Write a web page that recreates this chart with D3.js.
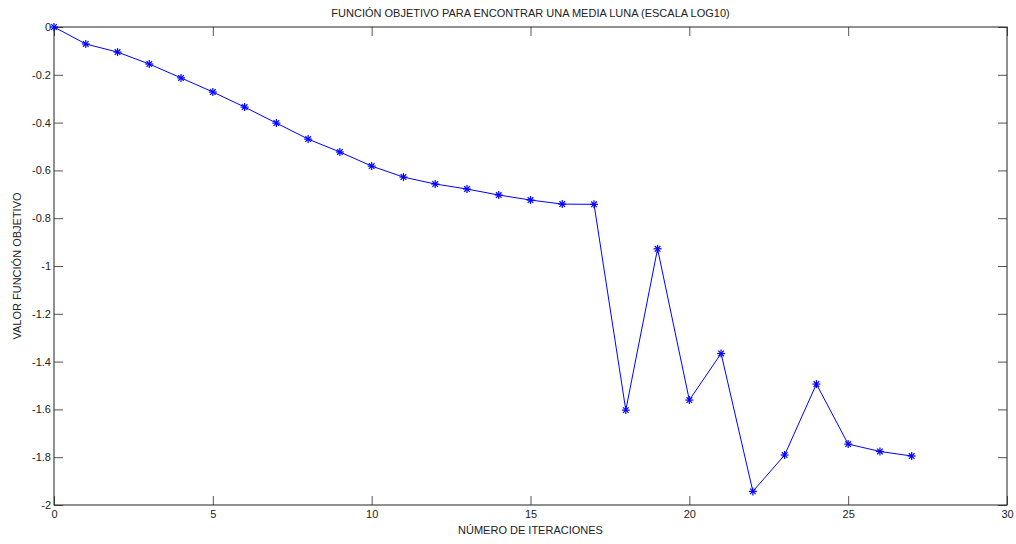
<!DOCTYPE html>
<html>
<head>
<meta charset="utf-8">
<script src="https://cdn.jsdelivr.net/npm/d3@7"></script>
<style>
  body { margin: 0; background: #fff; }
  svg text { font-family: "Liberation Sans", Arial, sans-serif; font-size: 11px; fill: #222; }
</style>
</head>
<body>
<div id="chart"></div>
<script>
// iteraciones y valor de la función objetivo (log10)
const iterations = d3.range(0, 28);
const objective = [0, -0.071, -0.105, -0.155, -0.213, -0.272, -0.335, -0.402, -0.469, -0.523,
  -0.582, -0.628, -0.657, -0.678, -0.703, -0.724, -0.741, -0.742, -1.603, -0.928,
  -1.561, -1.366, -1.943, -1.791, -1.494, -1.745, -1.776, -1.795];
const xTicks = [0, 5, 10, 15, 20, 25, 30];
const yTicks = [0, -0.2, -0.4, -0.6, -0.8, -1, -1.2, -1.4, -1.6, -1.8, -2];

const width = 1016, height = 544;
const margin = {top: 27, right: 9, bottom: 39, left: 54};
const innerW = width - margin.left - margin.right,
      innerH = height - margin.top - margin.bottom;

const svg = d3.select("#chart").append("svg")
  .attr("width", width).attr("height", height);
const g = svg.append("g").attr("transform", `translate(${margin.left},${margin.top})`);

const x = d3.scaleLinear().domain([0, 30]).range([0, innerW]);
const y = d3.scaleLinear().domain([-2, 0]).range([innerH, 0]);

const fmt = d => d3.format("")(+d.toFixed(1)).replace("−", "-");

// ejes con ticks hacia dentro (estilo matlab)
const styleAxis = sel => {
  sel.select(".domain").remove();
  sel.selectAll(".tick line").attr("stroke", "#555");
};
g.append("g").attr("transform", `translate(0,${innerH})`)
  .call(d3.axisBottom(x).tickValues(xTicks).tickSize(-9).tickPadding(4).tickFormat(fmt))
  .call(styleAxis)
  .call(s => s.selectAll("text").attr("font-size", 11).attr("font-family", null).attr("dy", "0.71em").attr("y", 5));
g.append("g")
  .call(d3.axisTop(x).tickValues(xTicks).tickSize(-9).tickFormat(""))
  .call(styleAxis);
g.append("g")
  .call(d3.axisLeft(y).tickValues(yTicks).tickSize(-9).tickPadding(3).tickFormat(fmt))
  .call(styleAxis)
  .call(s => s.selectAll("text").attr("font-size", 11).attr("font-family", null).attr("x", -3));
g.append("g").attr("transform", `translate(${innerW},0)`)
  .call(d3.axisRight(y).tickValues(yTicks).tickSize(-9).tickFormat(""))
  .call(styleAxis);

g.append("rect").attr("width", innerW).attr("height", innerH)
  .attr("fill", "none").attr("stroke", "#222").attr("stroke-width", 1);

const pts = iterations.map((it, i) => ({it, v: objective[i]}));

g.append("path").datum(pts)
  .attr("fill", "none").attr("stroke", "#0000ff").attr("stroke-width", 1)
  .attr("d", d3.line().x(d => x(d.it)).y(d => y(d.v)));

// marcadores asterisco
const star = g.append("g").selectAll("g").data(pts).join("g")
  .attr("transform", d => `translate(${x(d.it)},${y(d.v)})`)
  .attr("stroke", "#0000ff").attr("stroke-width", 1.2);
const r = 4;
star.append("line").attr("x1", -r).attr("x2", r);
star.append("line").attr("y1", -r).attr("y2", r);
star.append("line").attr("x1", -r * 0.7).attr("y1", -r * 0.7).attr("x2", r * 0.7).attr("y2", r * 0.7);
star.append("line").attr("x1", -r * 0.7).attr("y1", r * 0.7).attr("x2", r * 0.7).attr("y2", -r * 0.7);

svg.append("text").attr("x", margin.left + innerW / 2).attr("y", 17)
  .attr("text-anchor", "middle").text("FUNCIÓN OBJETIVO PARA ENCONTRAR UNA MEDIA LUNA (ESCALA LOG10)");
svg.append("text").attr("x", margin.left + innerW / 2).attr("y", 534)
  .attr("text-anchor", "middle").text("NÚMERO DE ITERACIONES");
svg.append("text").attr("transform", `translate(21,${margin.top + innerH / 2}) rotate(-90)`)
  .attr("text-anchor", "middle").text("VALOR FUNCIÓN OBJETIVO");
</script>
</body>
</html>
